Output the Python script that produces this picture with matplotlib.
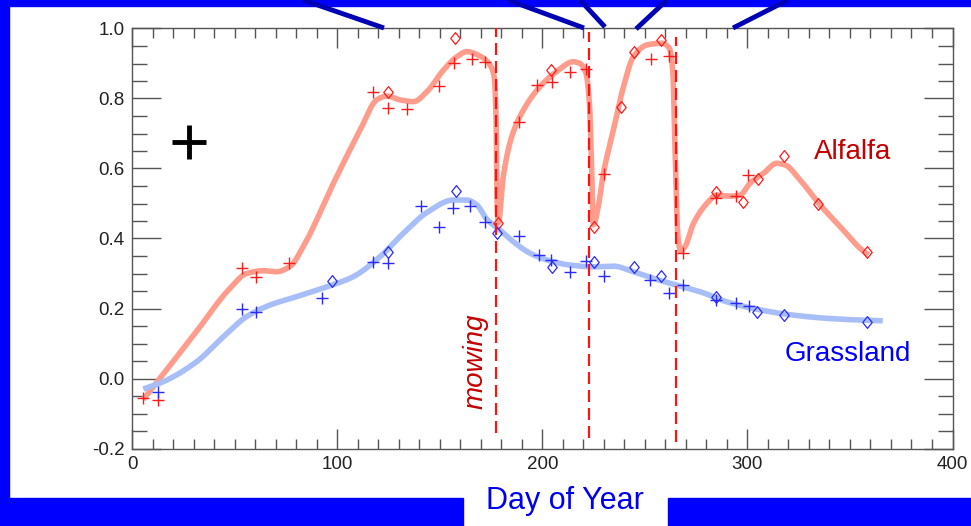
import numpy as np
import matplotlib
matplotlib.use("Agg")
import matplotlib.pyplot as plt
from matplotlib.patches import Rectangle
from matplotlib.lines import Line2D
from matplotlib.path import Path

plt.rcParams['font.family'] = ['Liberation Sans', 'DejaVu Sans']
plt.rcParams['axes.unicode_minus'] = False

# ---------------- data ----------------
x_ticks = [0, 100, 200, 300, 400]
x_tick_labels = ['0', '100', '200', '300', '400']
y_ticks = [-0.2, 0.0, 0.2, 0.4, 0.6, 0.8, 1.0]
y_tick_labels = ['-0.2', '0.0', '0.2', '0.4', '0.6', '0.8', '1.0']

# smoothed alfalfa curve (day, value)
alf_curve_day = [5.5, 15.3, 31.5, 47.8, 55.9, 64.0, 70.5, 77.0, 83.5, 98.2, 111.2,
                 119.3, 124.2, 130.7, 137.2, 143.7, 151.8, 158.3, 163.2, 169.7,
                 174.6, 176.6, 177.5, 178.0, 178.6, 181.0, 185.1, 190.8, 198.9,
                 207.0, 215.1, 218.4, 221.3, 223.0, 224.1, 224.9, 227.3, 229.8,
                 234.7, 239.6, 244.4, 251.0, 258.3, 262.0, 263.6, 264.8, 266.2,
                 267.5, 269.6, 273.7, 280.2, 285.0, 291.5, 296.4, 301.3, 307.8,
                 314.3, 318.4, 325.7, 335.4, 345.2, 354.9, 359.0]
alf_curve_val = [-0.06, 0.013, 0.135, 0.258, 0.30, 0.308, 0.305, 0.32, 0.377, 0.558, 0.71,
                 0.796, 0.807, 0.796, 0.791, 0.819, 0.881, 0.919, 0.934, 0.921,
                 0.895, 0.86, 0.74, 0.50, 0.445, 0.577, 0.691, 0.767, 0.834,
                 0.877, 0.905, 0.90, 0.872, 0.786, 0.596, 0.439, 0.491, 0.586,
                 0.71, 0.834, 0.919, 0.953, 0.958, 0.943, 0.881, 0.643, 0.40,
                 0.365, 0.377, 0.443, 0.50, 0.524, 0.521, 0.524, 0.558, 0.586,
                 0.615, 0.61, 0.567, 0.496, 0.434, 0.372, 0.353]

# smoothed grassland curve
gra_curve_day = [5.5, 15.3, 31.5, 44.5, 55.9, 67.3, 80.3, 96.5, 107.9, 120.9, 132.3,
                 143.7, 156.7, 163.2, 168.1, 173.0, 179.4, 185.9, 194.0, 202.2,
                 213.6, 224.9, 234.7, 244.4, 255.8, 267.2, 276.9, 290.0, 306.2,
                 322.4, 338.6, 354.9, 366.0]
gra_curve_val = [-0.03, -0.009, 0.048, 0.119, 0.177, 0.21, 0.234, 0.265, 0.291, 0.348, 0.415,
                 0.474, 0.51, 0.51, 0.496, 0.455, 0.424, 0.391, 0.358, 0.339,
                 0.324, 0.319, 0.321, 0.305, 0.283, 0.264, 0.248, 0.219, 0.196,
                 0.181, 0.172, 0.167, 0.165]

# alfalfa observations
alf_plus_day = [5.5, 12.8, 53.8, 60.5, 76.7, 117.7, 124.7, 133.9, 149.8, 157.0, 165.6,
                172.1, 188.8, 197.3, 204.6, 213.6, 221.4, 230.1, 252.9, 262.0, 268.8,
                284.7, 294.5, 300.5]
alf_plus_val = [-0.055, -0.06, 0.315, 0.289, 0.329, 0.819, 0.774, 0.769, 0.837, 0.902, 0.912,
                0.905, 0.734, 0.839, 0.846, 0.877, 0.883, 0.584, 0.913, 0.92, 0.36,
                0.515, 0.521, 0.581]
alf_dia_day = [124.7, 157.5, 178.6, 204.3, 225.3, 238.3, 244.8, 257.9, 284.7, 298.0,
               305.4, 317.9, 334.6, 358.2]
alf_dia_val = [0.819, 0.972, 0.443, 0.881, 0.434, 0.777, 0.932, 0.967, 0.534, 0.505,
               0.569, 0.637, 0.499, 0.362]

# grassland observations
gra_plus_day = [12.8, 53.5, 60.5, 92.6, 117.7, 124.7, 140.7, 149.8, 156.7, 164.8, 172.1,
                188.8, 198.6, 204.1, 213.6, 221.4, 230.1, 252.6, 262.0, 268.8, 284.7,
                294.5, 301.0]
gra_plus_val = [-0.038, 0.198, 0.191, 0.229, 0.334, 0.331, 0.493, 0.434, 0.486, 0.493, 0.448,
                0.407, 0.353, 0.34, 0.305, 0.337, 0.293, 0.281, 0.245, 0.267, 0.224,
                0.217, 0.207]
gra_dia_day = [97.5, 124.7, 157.8, 177.8, 204.6, 225.3, 244.9, 257.9, 284.7, 304.6,
               317.9, 358.2]
gra_dia_val = [0.279, 0.361, 0.537, 0.415, 0.32, 0.332, 0.32, 0.294, 0.234, 0.191,
               0.181, 0.162]

# mowing events (day, bottom, top of dashed line)
mow_day = [177.5, 223.0, 265.0]
mow_bottom = [-0.155, -0.17, -0.18]
mow_top = [1.0, 0.99, 0.975]

cross_day = [27.6]
cross_val = [0.677]


def pchip(x, y, xn):
    x = np.asarray(x, float)
    y = np.asarray(y, float)
    h = np.diff(x)
    d = np.diff(y) / h
    n = len(x)
    m = np.zeros(n)
    for k in range(1, n - 1):
        if d[k - 1] * d[k] <= 0:
            m[k] = 0.0
        else:
            w1 = 2 * h[k] + h[k - 1]
            w2 = h[k] + 2 * h[k - 1]
            m[k] = (w1 + w2) / (w1 / d[k - 1] + w2 / d[k])
    m[0] = d[0]
    m[-1] = d[-1]
    idx = np.clip(np.searchsorted(x, xn) - 1, 0, n - 2)
    hh = h[idx]
    t = (xn - x[idx]) / hh
    h00 = 2 * t**3 - 3 * t**2 + 1
    h10 = t**3 - 2 * t**2 + t
    h01 = -2 * t**3 + 3 * t**2
    h11 = t**3 - t**2
    return h00 * y[idx] + h10 * hh * m[idx] + h01 * y[idx + 1] + h11 * hh * m[idx + 1]


W, H = 971, 526
fig = plt.figure(figsize=(W / 100, H / 100), dpi=100)
fig.patch.set_facecolor('white')

# blue frame
BLUE = '#0000FF'
fig.add_artist(Rectangle((0, 1 - 6 / H), 1, 6 / H, transform=fig.transFigure,
                         color=BLUE, zorder=0))
fig.add_artist(Rectangle((0, 0), 9 / W, 1, transform=fig.transFigure,
                         color=BLUE, zorder=0))
fig.add_artist(Rectangle((0, 0), 463 / W, 28 / H, transform=fig.transFigure,
                         color=BLUE, zorder=0))
fig.add_artist(Rectangle((668 / W, 0), (W - 668) / W, 28 / H, transform=fig.transFigure,
                         color=BLUE, zorder=0))

ax = fig.add_axes([132 / W, 1 - 448.5 / H, (952.5 - 132) / W, 420 / H])
ax.set_xlim(0, 400)
ax.set_ylim(-0.2, 1.0)

xa = np.linspace(alf_curve_day[0], alf_curve_day[-1], 2000)
ax.plot(xa, pchip(alf_curve_day, alf_curve_val, xa), color='#FF9C8C', lw=4.0,
        solid_capstyle='butt', solid_joinstyle='round', zorder=2)
xg = np.linspace(gra_curve_day[0], gra_curve_day[-1], 1500)
ax.plot(xg, pchip(gra_curve_day, gra_curve_val, xg), color='#A8BEF8', lw=4.0,
        solid_capstyle='butt', solid_joinstyle='round', zorder=2)

dia = Path([(0, 1), (0.8, 0), (0, -1), (-0.8, 0), (0, 1)],
           [Path.MOVETO, Path.LINETO, Path.LINETO, Path.LINETO, Path.CLOSEPOLY])

ax.plot(alf_plus_day, alf_plus_val, ls='none', marker='+', ms=8, mew=1.0,
        color='#FF1A1A', zorder=3)
ax.plot(alf_dia_day, alf_dia_val, ls='none', marker=dia, ms=8.5, mew=0.9,
        mfc='none', mec='#FF1A1A', zorder=3)
ax.plot(gra_plus_day, gra_plus_val, ls='none', marker='+', ms=8, mew=1.0,
        color='#2A2AFF', zorder=3)
ax.plot(gra_dia_day, gra_dia_val, ls='none', marker=dia, ms=8.5, mew=0.9,
        mfc='none', mec='#2A2AFF', zorder=3)

for d, b, t in zip(mow_day, mow_bottom, mow_top):
    ax.plot([d, d], [b, t], color='#FF1414', lw=1.6, dashes=(5.4, 2.7), zorder=4)

ax.plot(cross_day, cross_val, ls='none', marker='+', ms=24, mew=3.5, color='black', zorder=5)

ax.text(332.5, 0.627, 'Alfalfa', color='#C40000', fontsize=20, ha='left', va='baseline')
ax.text(318.4, 0.05, 'Grassland', color='#0000FF', fontsize=20, ha='left', va='baseline')
ax.text(167.7, 0.05, 'mowing', rotation=90, style='italic', color='#C40000', fontsize=20,
        ha='center', va='center')

ax.set_xticks(x_ticks)
ax.set_xticklabels(x_tick_labels)
ax.set_xticks(np.arange(0, 401, 10), minor=True)
ax.set_yticks(y_ticks)
ax.set_yticklabels(y_tick_labels)
ax.set_yticks(np.arange(-0.2, 1.001, 0.05), minor=True)

TC = '#555555'
ax.tick_params(axis='x', which='major', direction='in', length=14.4, width=1.0, color=TC,
               top=True, bottom=True, pad=5.5, labelsize=13.5, labelcolor='#222222')
ax.tick_params(axis='x', which='minor', direction='in', length=7.2, width=1.0, color=TC,
               top=True, bottom=True)
ax.tick_params(axis='y', which='major', direction='in', length=21, width=1.0, color=TC,
               left=True, right=True, pad=5.5, labelsize=13.5, labelcolor='#222222')
ax.tick_params(axis='y', which='minor', direction='in', length=10.5, width=1.0, color=TC,
               left=True, right=True)
for s in ax.spines.values():
    s.set_color(TC)
    s.set_linewidth(1.0)

# connector lines above the plot
segs = [((303, 0), (384, 28)), ((508, 0), (584, 28)), ((580, 0), (605, 27)),
        ((667, 0), (636, 29)), ((788, 0), (733, 28))]
for (x0, y0), (x1, y1) in segs:
    fig.add_artist(Line2D([x0 / W, x1 / W], [1 - y0 / H, 1 - y1 / H],
                          transform=fig.transFigure, color='#0000B4', lw=3.5,
                          solid_capstyle='butt', zorder=6))

fig.text(565 / W, 1 - 509 / H, 'Day of Year', ha='center', va='baseline', fontsize=22,
         color='#0000EE')

fig.savefig('out.png', dpi=100, facecolor='white')
